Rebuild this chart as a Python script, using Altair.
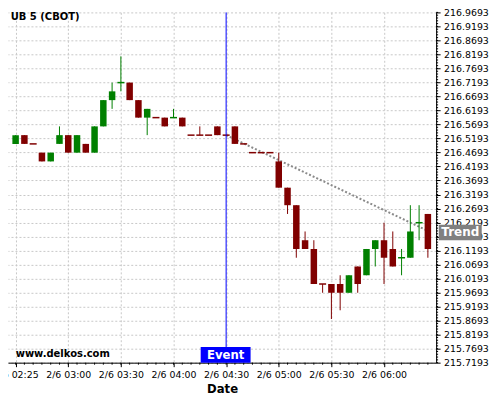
import altair as alt
import pandas as pd

title_text = "UB 5 (CBOT)"
watermark = "www.delkos.com"
x_title = "Date"
event_label = "Event"
trend_label = "Trend"

candle_idx = list(range(48))
opens = [216.5, 216.53125, 216.5, 216.46875, 216.4375, 216.5, 216.53125, 216.46875, 216.5, 216.46875,
         216.5625, 216.65625, 216.71875, 216.71875, 216.65625, 216.59375, 216.59375, 216.59375, 216.59375, 216.59375,
         216.53125, 216.53125, 216.53125, 216.5625, 216.53125, 216.5625, 216.5, 216.46875, 216.46875, 216.46875,
         216.4375, 216.34375, 216.28125, 216.15625, 216.125, 216.0, 216.0, 216.0, 215.96875, 216.0625,
         216.03125, 216.125, 216.15625, 216.125, 216.09375, 216.09375, 216.21875, 216.25]
highs = [216.53125, 216.53125, 216.5, 216.46875, 216.46875, 216.5625, 216.53125, 216.53125, 216.5, 216.5625,
         216.65625, 216.71875, 216.8125, 216.71875, 216.65625, 216.625, 216.59375, 216.59375, 216.625, 216.59375,
         216.53125, 216.5625, 216.53125, 216.5625, 216.53125, 216.5625, 216.5, 216.46875, 216.46875, 216.46875,
         216.46875, 216.34375, 216.28125, 216.1875, 216.15625, 216.0, 216.0, 216.03125, 216.03125, 216.0625,
         216.125, 216.15625, 216.21875, 216.1875, 216.125, 216.28125, 216.28125, 216.25]
lows = [216.5, 216.5, 216.5, 216.4375, 216.4375, 216.5, 216.46875, 216.46875, 216.46875, 216.46875,
        216.5625, 216.625, 216.6875, 216.65625, 216.59375, 216.53125, 216.59375, 216.5625, 216.59375, 216.5625,
        216.53125, 216.53125, 216.53125, 216.53125, 216.53125, 216.5, 216.5, 216.46875, 216.46875, 216.46875,
        216.34375, 216.25, 216.09375, 216.125, 216.0, 215.96875, 215.875, 215.90625, 215.96875, 215.96875,
        216.03125, 216.0625, 216.0, 216.0625, 216.03125, 216.09375, 216.15625, 216.09375]
closes = [216.53125, 216.5, 216.5, 216.4375, 216.46875, 216.53125, 216.46875, 216.53125, 216.46875, 216.5625,
          216.65625, 216.6875, 216.71875, 216.65625, 216.59375, 216.625, 216.59375, 216.5625, 216.59375, 216.5625,
          216.53125, 216.53125, 216.53125, 216.53125, 216.53125, 216.5, 216.5, 216.46875, 216.46875, 216.46875,
          216.34375, 216.28125, 216.125, 216.125, 216.0, 216.0, 215.96875, 215.96875, 216.03125, 216.0,
          216.125, 216.15625, 216.09375, 216.0625, 216.09375, 216.1875, 216.21875, 216.125]
direction = ["up", "down", "down", "down", "up", "up", "down", "up", "down", "up",
             "up", "up", "up", "down", "down", "up", "down", "down", "up", "down",
             "down", "down", "down", "down", "down", "down", "down", "down", "down", "down",
             "down", "down", "down", "down", "down", "down", "down", "down", "up", "down",
             "up", "up", "down", "down", "up", "up", "up", "down"]

tick_idx = [0, 6, 12, 18, 24, 30, 36, 42]
tick_labels = ["2/6 02:25", "2/6 03:00", "2/6 03:30", "2/6 04:00",
               "2/6 04:30", "2/6 05:00", "2/6 05:30", "2/6 06:00"]
y_ticks = [round(215.7193 + 0.05 * k, 4) for k in range(26)]
y_minor = [round(215.7193 + 0.01 * k, 4) for k in range(126)]

event_idx = [24]
trend_idx = [24, 47.37]
trend_price = [216.53125, 216.184]

W, H = 429, 351

df = pd.DataFrame({"i": candle_idx, "open": opens, "high": highs, "low": lows,
                   "close": closes, "dir": direction})

xscale = alt.Scale(domain=[-0.3, 47.37], nice=False, zero=False)
yscale = alt.Scale(domain=[215.7193, 216.9693], nice=False, zero=False)

label_expr = "[" + ",".join("'%s'" % t for t in tick_labels) + "][round(datum.value/6)]"

x_axis = alt.Axis(values=tick_idx, labelExpr=label_expr, title=x_title, grid=True,
                  gridColor="#c8c8c8", gridDash=[2, 2], tickSize=4, tickColor="black",
                  domainColor="black", labelFont="DejaVu Sans", labelFontSize=9.4,
                  labelColor="black", titleFont="DejaVu Sans", titleFontSize=11.7,
                  titleFontWeight="bold", titleColor="black", labelPadding=4,
                  titlePadding=4, labelOverlap=False, labelFlush=False)
y_axis = alt.Axis(orient="right", values=y_ticks, format=".4f", title=None, grid=True,
                  gridColor="#c8c8c8", gridDash=[2, 2], tickSize=4, tickColor="black",
                  domainColor="black", labelFont="DejaVu Sans", labelFontSize=9.4,
                  labelColor="black", labelPadding=3.5, labelOverlap=False,
                  labelFlush=False)


def X(field="i:Q"):
    return alt.X(field, scale=xscale, axis=x_axis)


def Y(field):
    return alt.Y(field, scale=yscale, axis=y_axis)


color = alt.Color("dir:N", scale=alt.Scale(domain=["up", "down"], range=["#008000", "#800000"]),
                  legend=None)

base = alt.Chart(df)

wicks = base.mark_rule(strokeWidth=1).encode(x=X(), y=Y("low:Q"), y2="high:Q", color=color)
bodies = base.transform_filter("datum.open != datum.close").mark_bar(size=6.5).encode(
    x=X(), y=Y("open:Q"), y2="close:Q", color=color)
dojis = base.transform_filter("datum.open == datum.close").mark_tick(
    orient="horizontal", size=7, thickness=1.5, opacity=1).encode(x=X(), y=Y("open:Q"), color=color)

minor_x = alt.Chart(pd.DataFrame({"i": candle_idx})).mark_rule(color="black", strokeWidth=1).encode(
    x=X(), y=alt.value(H), y2=alt.value(H + 2))
minor_y = alt.Chart(pd.DataFrame({"v": y_minor})).mark_rule(color="black", strokeWidth=1).encode(
    y=Y("v:Q"), x=alt.value(W), x2=alt.value(W + 2))

ev_df = pd.DataFrame({"i": event_idx, "label": [event_label]})
event_line = alt.Chart(ev_df).mark_rule(color="#0000ff", strokeWidth=1).encode(
    x=X(), y=alt.value(0), y2=alt.value(H))
event_box = alt.Chart(ev_df).mark_rect(color="#0000ff", xOffset=-25.5, x2Offset=24.5).encode(
    x=X(), x2="i", y=alt.value(H - 15.6), y2=alt.value(H))
event_text = alt.Chart(ev_df).mark_text(color="white", font="DejaVu Sans", fontSize=11.7,
                                        fontWeight="bold", align="center", baseline="middle",
                                        dx=-0.5).encode(
    x=X(), y=alt.value(H - 7.6), text="label:N")

tr_df = pd.DataFrame({"i": trend_idx, "price": trend_price})
trend_line = alt.Chart(tr_df).mark_line(color="#8a8a8a", strokeDash=[2, 2], strokeWidth=2).encode(
    x=X(), y=Y("price:Q"))
tr_end = pd.DataFrame({"price": [trend_price[-1]], "label": [trend_label]})
trend_box = alt.Chart(tr_end).mark_rect(color="#808080", yOffset=-7.8, y2Offset=7.8).encode(
    x=alt.value(W + 2.7), x2=alt.value(W + 45.7), y=Y("price:Q"), y2="price")
trend_text = alt.Chart(tr_end).mark_text(color="white", font="DejaVu Sans", fontSize=12,
                                         fontWeight="bold", align="center", baseline="middle").encode(
    x=alt.value(W + 24.2), y=Y("price:Q"), text="label:N")

title_mark = alt.Chart(pd.DataFrame({"t": [title_text]})).mark_text(
    font="DejaVu Sans", fontSize=10, fontWeight="bold", align="left", baseline="alphabetic",
    color="black").encode(x=alt.value(2.7), y=alt.value(7.3), text="t:N")
wm_mark = alt.Chart(pd.DataFrame({"t": [watermark]})).mark_text(
    font="DejaVu Sans", fontSize=10, fontWeight="bold", align="left", baseline="alphabetic",
    color="black").encode(x=alt.value(7.7), y=alt.value(345.7), text="t:N")

chart = alt.layer(
    minor_x, minor_y, trend_line, wicks, bodies, dojis, event_line, event_box, event_text,
    trend_box, trend_text, title_mark, wm_mark
).properties(
    width=W, height=H,
    autosize=alt.AutoSizeParams(type="none"),
    padding={"left": 0, "top": 4, "right": 56, "bottom": 33},
    background="white",
).configure_view(stroke=None)

chart.save("out.html", embed_options={"renderer": "svg", "actions": False})
